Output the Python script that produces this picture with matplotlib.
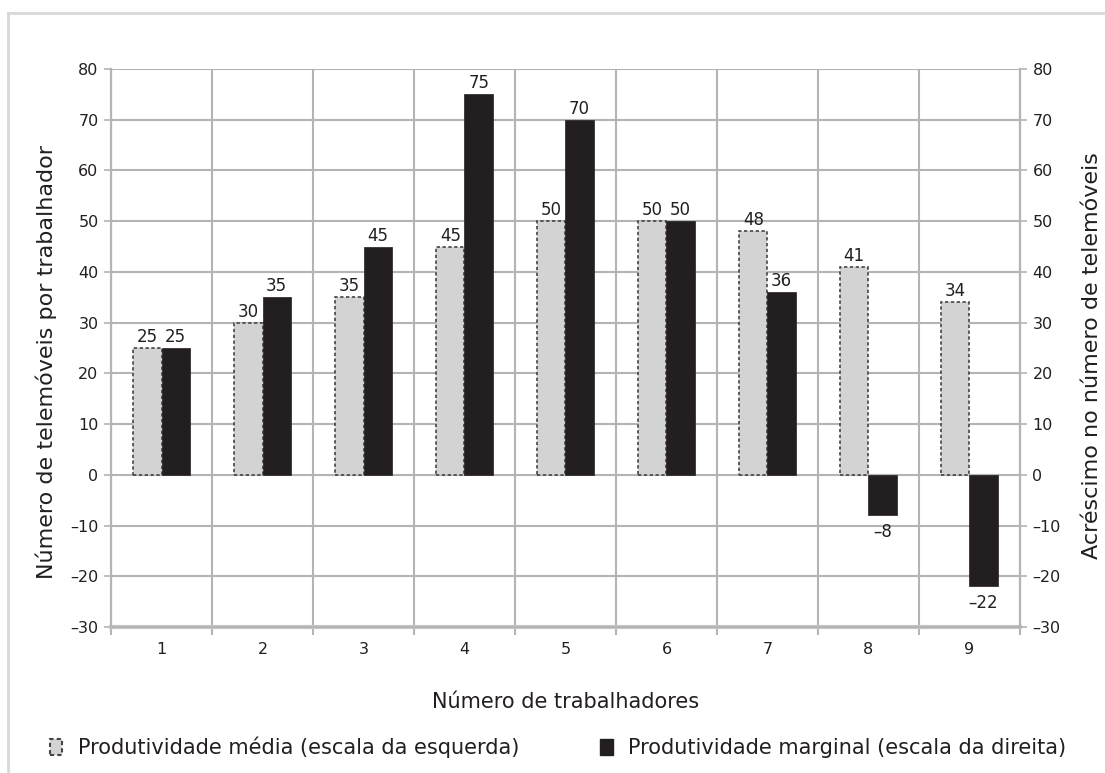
import numpy as np
import matplotlib.pyplot as plt
from matplotlib.patches import Patch
from matplotlib.lines import Line2D

plt.rcParams['font.family'] = ['DejaVu Sans']

# Dados
trabalhadores = [1, 2, 3, 4, 5, 6, 7, 8, 9]
prod_media = [25, 30, 35, 45, 50, 50, 48, 41, 34]
prod_marginal = [25, 35, 45, 75, 70, 50, 36, -8, -22]

grid_col = '#b4b4b4'
text_col = '#231f20'
light = '#d3d3d3'
dark = '#231f20'

fig = plt.figure(figsize=(11.05, 7.73), dpi=100)
ax = fig.add_axes([0.1005, 0.1889, 0.8225, 0.7218])
ax2 = ax.twinx()

x = np.array(trabalhadores)
w = 0.28

ax.set_axisbelow(True)
ax.bar(x - w / 2, prod_media, width=w, color=light, edgecolor='#444444',
       linestyle=(0, (2, 1.5)), linewidth=1.2, zorder=3)
ax2.bar(x + w / 2, prod_marginal, width=w, color=dark, edgecolor=dark,
        linewidth=0.5, zorder=3)

# rótulos de valor
for xi, v in zip(x, prod_media):
    ax.text(xi - w / 2, v + 0.4, str(v), ha='center', va='bottom',
            fontsize=12, color=text_col, zorder=5)
for xi, v in zip(x, prod_marginal):
    lbl = str(v).replace('-', '\u2013')
    if v >= 0:
        ax2.text(xi + w / 2, v + 0.4, lbl, ha='center', va='bottom',
                 fontsize=12, color=text_col, zorder=5)
    else:
        ax2.text(xi + w / 2, v - 1.5, lbl, ha='center', va='top',
                 fontsize=12, color=text_col, zorder=5)

for a in (ax, ax2):
    a.set_xlim(0.5, 9.5)
    a.set_ylim(-30, 80)
    a.set_yticks(range(-30, 81, 10))
    a.set_yticklabels([str(t).replace('-', '\u2013') for t in range(-30, 81, 10)])
    a.tick_params(axis='y', length=5, width=1.2, color=grid_col,
                  labelsize=11.5, labelcolor=text_col, pad=4)
    for s in a.spines.values():
        s.set_color(grid_col)
        s.set_linewidth(1.5)
    a.spines['top'].set_visible(False)

ax.spines['bottom'].set_linewidth(3)
ax.spines['bottom'].set_color('#c8c8c8')

ax.set_xticks(trabalhadores)
ax.set_xticks(np.arange(0.5, 10, 1), minor=True)
ax.tick_params(axis='x', which='major', length=0, labelsize=11.5,
               labelcolor=text_col, pad=11)
ax.tick_params(axis='x', which='minor', length=6, width=1.5, color=grid_col)
ax.grid(True, axis='y', color=grid_col, linewidth=1.5)
ax.grid(True, axis='x', which='minor', color=grid_col, linewidth=1.5)

ax.set_ylabel('Número de telemóveis por trabalhador', fontsize=16,
              color=text_col)
ax.yaxis.set_label_coords(-0.0594, 0.475)
ax2.set_ylabel('Acréscimo no número de telemóveis', fontsize=16,
               color=text_col)
ax2.yaxis.set_label_coords(1.068, 0.486)
ax.set_xlabel('Número de trabalhadores', fontsize=15, color=text_col,
              labelpad=25)

handles = [
    Patch(facecolor=light, edgecolor='#444444', linestyle=(0, (2, 1.5)),
          linewidth=1.5, label='Produtividade média (escala da esquerda)'),
    Patch(facecolor=dark, edgecolor=dark,
          label='Produtividade marginal (escala da direita)'),
]
fig.legend(handles=handles, loc='center', bbox_to_anchor=(0.505, 0.033),
           ncol=2, frameon=False, fontsize=15, handlelength=0.6,
           handleheight=0.8, handletextpad=0.75, columnspacing=3.9,
           borderpad=0, labelcolor=text_col)

# moldura exterior
fig.add_artist(Line2D([8 / 1105, 1], [1 - 13 / 773, 1 - 13 / 773],
                      color='#d8d8d8', linewidth=2))
fig.add_artist(Line2D([8 / 1105, 8 / 1105], [0, 1 - 13 / 773],
                      color='#d8d8d8', linewidth=2))

fig.savefig('out.png', dpi=100, facecolor='white')
